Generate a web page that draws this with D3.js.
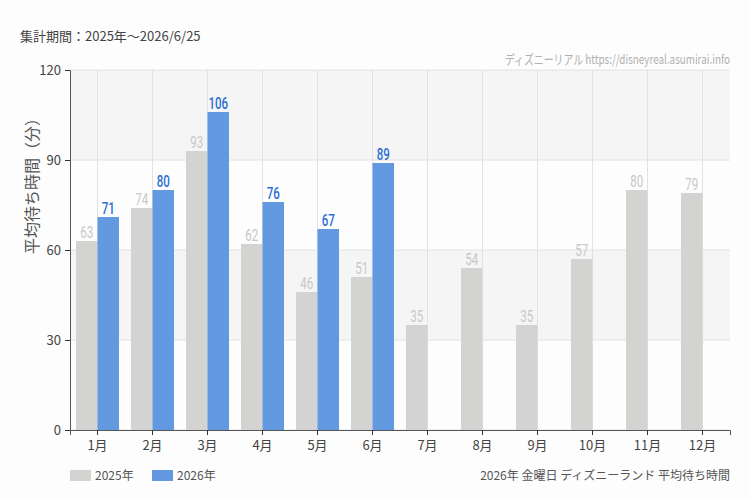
<!DOCTYPE html>
<html>
<head>
<meta charset="utf-8">
<script src="https://cdn.jsdelivr.net/npm/d3@7"></script>
<style>
  body { margin: 0; background: #fcfdfc; }
  text { font-family: "Noto Sans CJK JP", "Noto Sans", sans-serif; }
</style>
</head>
<body>
<div id="chart"></div>
<script>
// データ
const months = ["1月", "2月", "3月", "4月", "5月", "6月", "7月", "8月", "9月", "10月", "11月", "12月"];
const values2025 = [63, 74, 93, 62, 46, 51, 35, 54, 35, 57, 80, 79];
const values2026 = [71, 80, 106, 76, 67, 89, null, null, null, null, null, null];
const yTicks = [0, 30, 60, 90, 120];
const seriesNames = ["2025年", "2026年"];

const width = 750;
const height = 500;
const margin = { top: 70, right: 20, bottom: 70, left: 70 };
const innerW = width - margin.left - margin.right;
const innerH = height - margin.top - margin.bottom;

const svg = d3.select("#chart")
    .append("svg")
    .attr("width", width)
    .attr("height", height);

const g = svg.append("g")
    .attr("transform", `translate(${margin.left},${margin.top})`);

const x = d3.scaleBand().domain(months).range([0, innerW]);
const xSub = d3.scaleBand().domain(seriesNames).range([6, x.bandwidth() - 6]);
const y = d3.scaleLinear().domain([0, 120]).range([innerH, 0]);

// 背景の帯
g.selectAll(".band")
    .data(d3.pairs(yTicks))
    .enter()
    .append("rect")
    .attr("x", 0)
    .attr("y", d => y(d[1]))
    .attr("width", innerW)
    .attr("height", d => y(d[0]) - y(d[1]))
    .attr("fill", (d, i) => i % 2 === 1 ? "#f4f5f4" : "#fcfdfc");

// グリッド
g.selectAll(".hgrid")
    .data(yTicks)
    .enter()
    .append("line")
    .attr("x1", 0).attr("x2", innerW)
    .attr("y1", d => y(d)).attr("y2", d => y(d))
    .attr("stroke", "#e2e2e2");

g.selectAll(".vgrid")
    .data(months)
    .enter()
    .append("line")
    .attr("x1", d => x(d) + x.bandwidth() / 2)
    .attr("x2", d => x(d) + x.bandwidth() / 2)
    .attr("y1", 0).attr("y2", innerH)
    .attr("stroke", "#e2e2e2");

// 棒グラフ
const colors = { "2025年": "#d3d3d2", "2026年": "#6299e1" };
const labelColors = { "2025年": "#c8c8c8", "2026年": "#2b6fd4" };
const series = [
    { name: "2025年", values: values2025 },
    { name: "2026年", values: values2026 }
];

series.forEach(s => {
    const pts = months.map((m, i) => ({ m, v: s.values[i] })).filter(d => d.v != null);
    g.selectAll(".bar-" + s.name)
        .data(pts)
        .enter()
        .append("rect")
        .attr("x", d => x(d.m) + xSub(s.name))
        .attr("y", d => y(d.v))
        .attr("width", xSub.bandwidth())
        .attr("height", d => innerH - y(d.v))
        .attr("fill", colors[s.name]);

    // 細めの数値ラベル（横方向に縮める）
    g.selectAll(".label-" + s.name)
        .data(pts)
        .enter()
        .append("text")
        .attr("transform", d => `translate(${x(d.m) + xSub(s.name) + xSub.bandwidth() / 2},${y(d.v) - 3}) scale(0.68,1)`)
        .attr("text-anchor", "middle")
        .style("font-family", "Roboto, sans-serif")
        .style("font-size", "17px")
        .style("font-weight", s.name === "2026年" ? "500" : "normal")
        .attr("fill", labelColors[s.name])
        .text(d => d.v);
});

// 軸
const xAxis = g.append("g")
    .attr("transform", `translate(0,${innerH})`)
    .call(d3.axisBottom(x).tickSizeOuter(0).tickSize(5).tickPadding(6));
const yAxis = g.append("g")
    .call(d3.axisLeft(y).tickValues(yTicks).tickSizeOuter(0).tickSize(5).tickPadding(4));

[xAxis, yAxis].forEach(a => {
    a.select(".domain").attr("stroke", "#555");
    a.selectAll(".tick line").attr("stroke", "#333");
    a.selectAll(".tick text")
        .style("font-family", "'Noto Sans CJK JP', sans-serif")
        .style("font-size", "13px")
        .attr("fill", "#444");
});

// タイトル類
svg.append("text")
    .attr("x", 20).attr("y", 41)
    .style("font-size", "13px")
    .attr("fill", "#444")
    .text("集計期間：2025年～2026/6/25");

svg.append("text")
    .attr("transform", "translate(730,64) scale(0.76,1)")
    .attr("text-anchor", "end")
    .style("font-size", "13px")
    .attr("fill", "#b0b0b0")
    .text("ディズニーリアル https://disneyreal.asumirai.info");

svg.append("text")
    .attr("transform", `translate(38,182) rotate(-90)`)
    .attr("text-anchor", "middle")
    .style("font-size", "16px")
    .attr("fill", "#555")
    .text("平均待ち時間（分）");

// 凡例
const legend = svg.append("g").attr("transform", "translate(70,470)");
seriesNames.forEach((n, i) => {
    const lg = legend.append("g").attr("transform", `translate(${i * 82},0)`);
    lg.append("rect").attr("width", 21).attr("height", 11).attr("fill", colors[n]);
    lg.append("text")
        .attr("x", 25).attr("y", 10)
        .style("font-size", "12px")
        .attr("fill", "#555")
        .text(n);
});

svg.append("text")
    .attr("x", 730).attr("y", 480)
    .attr("text-anchor", "end")
    .style("font-size", "12px")
    .attr("fill", "#555")
    .text("2026年 金曜日 ディズニーランド 平均待ち時間");
</script>
</body>
</html>
